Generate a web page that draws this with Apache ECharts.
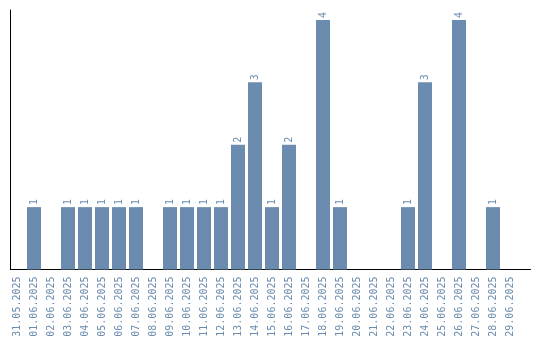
<!DOCTYPE html>
<html><head><meta charset="utf-8">
<script src="https://cdn.jsdelivr.net/npm/echarts@6/dist/echarts.min.js"></script>
<style>html,body{margin:0;padding:0;background:#fff}#c{width:540px;height:340px}</style>
</head><body><div id="c"></div>
<script>
const categories = ["31.05.2025","01.06.2025","02.06.2025","03.06.2025","04.06.2025","05.06.2025","06.06.2025","07.06.2025","08.06.2025","09.06.2025","10.06.2025","11.06.2025","12.06.2025","13.06.2025","14.06.2025","15.06.2025","16.06.2025","17.06.2025","18.06.2025","19.06.2025","20.06.2025","21.06.2025","22.06.2025","23.06.2025","24.06.2025","25.06.2025","26.06.2025","27.06.2025","28.06.2025","29.06.2025"];
const values = [0,1,0,1,1,1,1,1,0,1,1,1,1,2,3,1,2,0,4,1,0,0,0,1,3,0,4,0,1,0];
const color = '#6b8cae';
const chart = echarts.init(document.getElementById('c'), null, {renderer:'canvas'});
chart.setOption({
  animation:false,
  grid:[
    {left:8.5,width:510,top:10,bottom:70.5,containLabel:false},
    {left:10.5,right:9.5,top:10,bottom:70.5,containLabel:false}
  ],
  xAxis:[
    {type:'category',data:categories,gridIndex:0,
      axisLine:{show:false},axisTick:{show:false},
      axisLabel:{rotate:90,interval:0,color:color,fontFamily:'DejaVu Sans Mono',fontSize:10,margin:7}},
    {type:'value',gridIndex:1,min:0,max:1,
      axisLine:{show:true,onZero:false,lineStyle:{color:'#000',width:1}},
      axisTick:{show:false},axisLabel:{show:false},splitLine:{show:false}}
  ],
  yAxis:[
    {type:'value',gridIndex:0,min:0,max:4.16,show:false},
    {type:'value',gridIndex:1,min:0,max:1,
      axisLine:{show:true,onZero:false,lineStyle:{color:'#000',width:1}},
      axisTick:{show:false},axisLabel:{show:false},splitLine:{show:false}}
  ],
  series:[{type:'bar',xAxisIndex:0,yAxisIndex:0,data:values.map(v=>v===0?null:v),barWidth:14,
    itemStyle:{color:color},
    label:{show:true,position:'top',rotate:90,align:'left',verticalAlign:'middle',distance:2,
      color:color,fontFamily:'DejaVu Sans Mono',fontSize:10}}]
});
</script></body></html>
